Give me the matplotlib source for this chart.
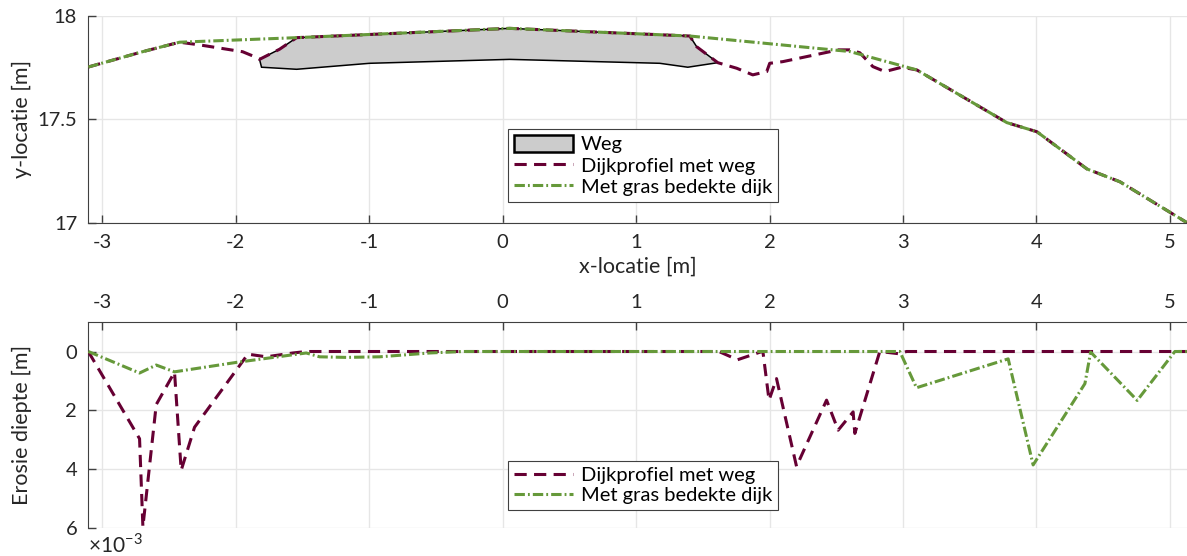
import numpy as np
import matplotlib.pyplot as plt
from matplotlib.patches import Polygon, Patch
from matplotlib.ticker import FuncFormatter

plt.rcParams['font.family'] = ['Lato', 'DejaVu Sans']
plt.rcParams['mathtext.fontset'] = 'custom'
plt.rcParams['mathtext.rm'] = 'Lato'
plt.rcParams['axes.unicode_minus'] = False
plt.rcParams['font.size'] = 14

# --- data ---
# road outline (Weg)
weg_x = [-1.544, 0.052, 1.402, 1.454, 1.612, 1.387, 1.177, 0.052, -0.997,
         -1.544, -1.807, -1.822, -1.672]
weg_y = [17.895, 17.940, 17.903, 17.851, 17.774, 17.752, 17.771, 17.790, 17.771,
         17.742, 17.752, 17.790, 17.839]

# dike profile with road
weg_prof_x = [-3.105, -2.699, -2.421, -2.271, -1.949, -1.859, -1.822, -1.672, -1.544,
              0.052, 1.402, 1.454, 1.612, 1.754, 1.874, 1.979, 2.001, 2.099, 2.451,
              2.504, 2.601, 2.676, 2.774, 2.864, 2.991, 3.103, 3.778, 4.003, 4.378,
              4.625, 5.128]
weg_prof_y = [17.753, 17.827, 17.873, 17.860, 17.827, 17.803, 17.790, 17.839, 17.895,
              17.940, 17.903, 17.851, 17.774, 17.747, 17.715, 17.731, 17.771, 17.779, 17.827,
              17.836, 17.836, 17.822, 17.755, 17.731, 17.752, 17.739, 17.484, 17.440, 17.260,
              17.198, 17.000]

# grass covered dike
gras_x = [-3.105, -2.699, -2.421, -1.544, 0.052, 1.402, 2.601, 3.103, 3.778, 4.003,
          4.378, 4.625, 5.128]
gras_y = [17.753, 17.827, 17.873, 17.895, 17.940, 17.903, 17.828, 17.739, 17.484, 17.440,
          17.260, 17.198, 17.000]

# erosion depth [m]
ero_weg_x = [-3.105, -2.721, -2.696, -2.596, -2.459, -2.409, -2.309, -1.909, -1.771,
             -1.572, -1.472, 1.62, 1.76, 1.93, 1.95, 1.996, 2.052, 2.202, 2.427, 2.514,
             2.626, 2.639, 2.826, 2.976, 3.026, 5.128]
ero_weg_d = [0, 2.96e-3, 5.95e-3, 1.8e-3, 0.7e-3, 4.03e-3, 2.57e-3, 0.09e-3, 0.18e-3,
             0.05e-3, 0, 0, 0.28e-3, 0.02e-3, 0, 1.65e-3, 0.92e-3, 3.9e-3, 1.65e-3, 2.67e-3,
             2.05e-3, 2.78e-3, 0, 0.08e-3, 0, 0]

ero_gras_x = [-3.105, -2.721, -2.596, -2.459, -1.996, -1.472, -1.372, -1.172, -0.922,
              -0.547, -0.3, 2.976, 3.101, 3.788, 3.975, 4.363, 4.406, 4.755, 5.037, 5.128]
ero_gras_d = [0, 0.73e-3, 0.46e-3, 0.69e-3, 0.37e-3, 0.05e-3, 0.18e-3, 0.2e-3, 0.18e-3,
              0.05e-3, 0, 0, 1.23e-3, 0.25e-3, 3.85e-3, 1.09e-3, 0.02e-3, 1.66e-3, 0, 0]

x_ticks = [-3, -2, -1, 0, 1, 2, 3, 4, 5]

c_weg = '#660033'
c_gras = '#66993a'
spine_c = '#404040'
grid_c = '#e6e6e6'
weg_style = dict(color=c_weg, linewidth=2.2, dashes=(4, 2.4))
gras_style = dict(color=c_gras, linewidth=2.2, dashes=(3.4, 1.0, 0.6, 1.0))

fig = plt.figure(figsize=(11.87, 5.56), dpi=100)
ax1 = fig.add_axes([0.0744, 0.5995, 0.9256, 0.3718])
ax2 = fig.add_axes([0.0744, 0.0498, 0.9256, 0.371])


def style(ax):
    ax.grid(True, color=grid_c, linewidth=1)
    ax.set_axisbelow(True)
    ax.tick_params(direction='in', length=6, color=spine_c, labelcolor='#262626',
                   labelsize=14.5, pad=8, width=1)
    for s in ax.spines.values():
        s.set_color(spine_c)
    ax.spines['right'].set_visible(False)
    ax.set_xticks(x_ticks)
    ax.set_xlim(-3.105, 5.128)


# --- top: profiles ---
style(ax1)
ax1.spines['top'].set_visible(False)
road = Polygon(np.column_stack([weg_x, weg_y]), closed=True, facecolor='#cccccc',
               edgecolor='black', linewidth=1.1, zorder=2)
ax1.add_patch(road)
ax1.plot(weg_prof_x, weg_prof_y, zorder=3, **weg_style)
ax1.plot(gras_x, gras_y, zorder=4, **gras_style)
ax1.set_ylim(17, 18)
ax1.set_yticks([17, 17.5, 18])
ax1.set_yticklabels(['17', '17.5', '18'])
ax1.set_xlabel('x-locatie [m]', fontsize=15.5, labelpad=4, color='#262626')
ax1.set_ylabel('y-locatie [m]', fontsize=15.5, labelpad=4, color='#262626')

h_weg = Patch(facecolor='#cccccc', edgecolor='black', linewidth=1.8)
h_l1, = ax1.plot([], [], **weg_style)
h_l2, = ax1.plot([], [], **gras_style)
leg1 = ax1.legend([h_weg, h_l1, h_l2], ['Weg', 'Dijkprofiel met weg', 'Met gras bedekte dijk'],
                  loc='lower center', bbox_to_anchor=(0.505, 0.1), fancybox=False,
                  edgecolor=spine_c, framealpha=1, fontsize=14.5, handlelength=2.9,
                  handleheight=0.9, borderpad=0.3, labelspacing=0.15, handletextpad=0.4,
                  borderaxespad=0)
leg1.get_frame().set_linewidth(0.8)

# --- bottom: erosion depth ---
style(ax2)
ax2.spines['bottom'].set_visible(False)
ax2.xaxis.tick_top()
ax2.plot(ero_weg_x, ero_weg_d, zorder=3, **weg_style)
ax2.plot(ero_gras_x, ero_gras_d, zorder=4, **gras_style)
ax2.set_ylim(6e-3, -1e-3)
ax2.set_yticks([0, 2e-3, 4e-3, 6e-3])
ax2.yaxis.set_major_formatter(FuncFormatter(lambda v, p: f'{v * 1e3:g}'))
ax2.set_ylabel('Erosie diepte [m]', fontsize=15.5, labelpad=24, color='#262626')
ax2.text(0.0, -0.02, r'$\times10^{-3}$', transform=ax2.transAxes, ha='left', va='top',
         fontsize=15, color='#262626')
leg2 = ax2.legend(['Dijkprofiel met weg', 'Met gras bedekte dijk'],
                  loc='lower center', bbox_to_anchor=(0.505, 0.087), fancybox=False,
                  edgecolor=spine_c, framealpha=1, fontsize=14.5, handlelength=2.9,
                  borderpad=0.3, labelspacing=0.15, handletextpad=0.4, borderaxespad=0)
leg2.get_frame().set_linewidth(0.8)

fig.savefig('out.png', dpi=100)
